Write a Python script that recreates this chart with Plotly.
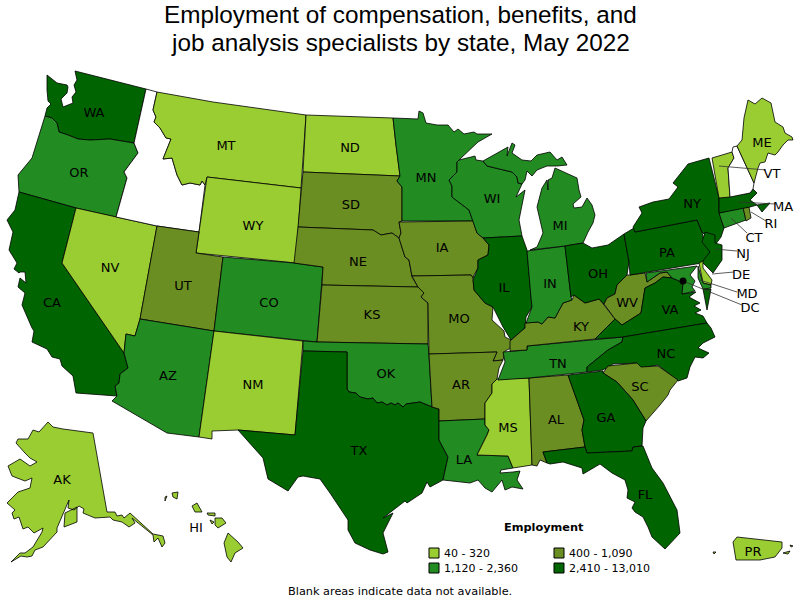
import plotly.graph_objects as go

# legend classes (employment ranges) and colours
bin_labels = ['40 - 320', '400 - 1,090', '1,120 - 2,360', '2,410 - 13,010']
bin_colors = ['#9ACD32', '#6B8E23', '#228B22', '#006400']

# class of each state, -1 = data not available
state_bins = {
    'WA': 3, 'OR': 2, 'CA': 3, 'NV': 0, 'ID': -1, 'MT': 0, 'WY': 0, 'UT': 1, 'CO': 2, 'AZ': 2, 'NM': 0,
    'ND': 0, 'SD': 1, 'NE': 1, 'KS': 1, 'OK': 2, 'TX': 3, 'MN': 2, 'IA': 1, 'MO': 1, 'AR': 1, 'LA': 2,
    'WI': 2, 'IL': 3, 'MS': 0, 'AL': 1, 'TN': 2, 'KY': 1, 'IN': 2, 'MI': 2, 'OH': 3, 'WV': 1, 'VA': 3,
    'NC': 3, 'SC': 1, 'GA': 3, 'FL': 3, 'PA': 3, 'NY': 3, 'NJ': 3, 'MD': 2, 'DE': 0, 'CT': 2, 'RI': 1,
    'MA': 3, 'VT': 0, 'NH': -1, 'ME': 0, 'AK': 0, 'HI': 0, 'PR': 0,
}

outlines = {
    'WA': [[(47, 75), (57, 83), (67, 85), (68, 87), (67, 93), (61, 99), (63, 107), (73, 103), (72, 97), (76, 92), (74, 85), (77, 80), (75, 71), (146, 89), (134, 143), (110, 139), (90, 140), (78, 139), (68, 135), (59, 132), (57, 123), (52, 118), (45, 116), (47, 108), (51, 104), (48, 101), (47, 90)]],
    'OR': [[(45, 116), (52, 118), (57, 123), (59, 132), (68, 135), (78, 139), (90, 140), (110, 139), (134, 143), (138, 153), (124, 172), (127, 178), (116, 217), (76, 208), (19, 192), (18, 175), (32, 158)]],
    'CA': [[(19, 192), (76, 208), (62, 263), (124, 353), (128, 368), (120, 374), (119, 383), (115, 386), (117, 396), (76, 393), (73, 376), (62, 366), (60, 359), (52, 357), (47, 349), (32, 342), (34, 331), (32, 328), (22, 305), (25, 293), (18, 287), (20, 278), (26, 283), (25, 272), (20, 272), (19, 273), (14, 269), (17, 263), (9, 250), (13, 232), (7, 220), (15, 210)]],
    'NV': [[(76, 208), (157, 226), (140, 319), (135, 336), (126, 334), (124, 353), (62, 263)]],
    'ID': [[(146, 89), (157, 92), (153, 110), (156, 117), (154, 122), (160, 128), (166, 138), (171, 139), (163, 159), (172, 158), (177, 175), (182, 185), (190, 183), (200, 185), (202, 181), (205, 185), (199, 232), (157, 226), (116, 217), (127, 178), (124, 172), (138, 153), (134, 143)]],
    'MT': [[(157, 92), (213, 102), (306, 115), (301, 188), (207, 177), (205, 185), (202, 181), (200, 185), (190, 183), (182, 185), (177, 175), (172, 158), (163, 159), (171, 139), (166, 138), (160, 128), (154, 122), (156, 117), (153, 110)]],
    'WY': [[(207, 177), (301, 188), (296, 263), (196, 253)]],
    'UT': [[(157, 226), (199, 232), (196, 253), (223, 257), (214, 331), (140, 319)]],
    'CO': [[(223, 257), (294, 263), (323, 267), (317, 342), (214, 331)]],
    'AZ': [[(140, 319), (214, 331), (199, 437), (167, 433), (112, 401), (117, 396), (115, 386), (119, 383), (120, 374), (128, 368), (124, 353), (126, 334), (135, 336)]],
    'NM': [[(214, 331), (303, 341), (295, 435), (238, 430), (212, 431), (212, 439), (199, 437)]],
    'ND': [[(306, 115), (393, 118), (396, 145), (400, 176), (303, 172)]],
    'SD': [[(303, 172), (400, 176), (397, 181), (402, 187), (402, 221), (399, 222), (401, 233), (399, 238), (392, 233), (381, 235), (373, 230), (298, 227)]],
    'NE': [[(298, 227), (373, 230), (381, 235), (392, 233), (399, 238), (405, 257), (409, 260), (412, 277), (418, 287), (322, 285), (323, 267), (294, 263)]],
    'KS': [[(322, 285), (418, 287), (424, 293), (421, 297), (428, 303), (428, 344), (317, 342)]],
    'OK': [[(303, 341), (317, 342), (428, 344), (429, 355), (432, 407), (420, 402), (406, 404), (403, 407), (398, 403), (395, 405), (391, 403), (387, 405), (382, 402), (377, 403), (373, 398), (368, 399), (360, 397), (356, 393), (349, 392), (347, 389), (347, 352), (303, 351)]],
    'TX': [[(303, 351), (347, 352), (347, 389), (349, 392), (356, 393), (360, 397), (368, 399), (373, 398), (377, 403), (382, 402), (387, 405), (391, 403), (395, 405), (398, 403), (403, 407), (406, 404), (420, 402), (432, 407), (439, 409), (439, 440), (448, 457), (443, 480), (430, 487), (427, 482), (422, 493), (407, 503), (405, 501), (397, 507), (383, 518), (393, 513), (383, 533), (388, 552), (383, 554), (370, 550), (355, 543), (348, 530), (348, 520), (330, 493), (320, 479), (303, 476), (298, 477), (288, 491), (268, 479), (263, 458), (238, 430), (295, 435)]],
    'MN': [[(393, 118), (418, 119), (419, 111), (423, 113), (426, 123), (437, 125), (448, 125), (454, 132), (458, 129), (464, 134), (474, 132), (477, 134), (492, 134), (478, 142), (459, 160), (457, 162), (457, 172), (449, 180), (452, 186), (452, 197), (469, 210), (473, 221), (402, 221), (402, 187), (397, 181), (400, 176), (396, 145)]],
    'IA': [[(399, 222), (473, 221), (477, 233), (483, 238), (489, 245), (488, 255), (478, 260), (478, 268), (474, 275), (473, 278), (471, 275), (412, 276), (409, 260), (405, 257), (399, 238), (401, 233)]],
    'MO': [[(412, 276), (471, 275), (473, 278), (474, 290), (485, 303), (493, 307), (492, 320), (504, 331), (505, 337), (511, 340), (511, 348), (505, 351), (503, 360), (493, 361), (497, 352), (429, 354), (428, 303), (421, 297), (424, 293), (418, 287)]],
    'AR': [[(429, 354), (497, 352), (493, 361), (503, 360), (499, 368), (497, 379), (492, 384), (492, 393), (485, 403), (485, 419), (439, 421), (439, 409), (432, 407)]],
    'LA': [[(439, 421), (485, 419), (485, 425), (489, 430), (487, 435), (477, 455), (508, 456), (513, 468), (501, 470), (500, 473), (513, 472), (520, 471), (517, 480), (523, 489), (512, 487), (505, 490), (502, 480), (492, 492), (485, 488), (478, 480), (470, 483), (443, 480), (448, 457), (439, 440)]],
    'WI': [[(459, 160), (475, 156), (476, 160), (483, 161), (487, 166), (512, 172), (517, 177), (518, 183), (522, 184), (516, 197), (525, 190), (522, 207), (519, 220), (522, 236), (483, 238), (477, 233), (473, 221), (469, 210), (452, 197), (452, 186), (449, 180), (457, 172), (457, 162)]],
    'IL': [[(483, 238), (522, 236), (527, 250), (531, 298), (532, 307), (526, 317), (525, 328), (511, 340), (505, 331), (503, 327), (493, 307), (485, 303), (474, 290), (473, 280), (478, 268), (478, 260), (488, 255), (489, 245)]],
    'MS': [[(497, 379), (529, 378), (532, 465), (513, 468), (508, 456), (477, 455), (487, 435), (489, 430), (485, 425), (485, 403), (492, 393), (492, 384)]],
    'AL': [[(529, 378), (568, 375), (584, 420), (582, 430), (585, 447), (543, 452), (547, 463), (540, 460), (537, 466), (532, 465)]],
    'TN': [[(503, 352), (527, 350), (527, 346), (623, 337), (622, 342), (608, 350), (587, 367), (587, 372), (529, 378), (498, 380), (505, 362)]],
    'KY': [[(510, 341), (525, 328), (525, 323), (538, 322), (542, 324), (548, 317), (555, 318), (563, 303), (572, 300), (574, 295), (585, 303), (599, 299), (604, 305), (615, 319), (595, 339), (527, 346), (527, 350), (510, 351)]],
    'IN': [[(527, 251), (565, 246), (571, 297), (572, 300), (563, 303), (555, 318), (548, 317), (542, 324), (538, 322), (526, 323), (532, 307), (531, 298)]],
    'MI': [[(483, 161), (508, 147), (507, 156), (512, 143), (515, 145), (512, 153), (522, 160), (531, 161), (537, 155), (550, 152), (557, 160), (562, 157), (567, 165), (557, 166), (547, 166), (537, 170), (532, 176), (527, 171), (525, 180), (522, 184), (518, 183), (517, 177), (512, 172), (487, 166)],
           [(555, 168), (577, 178), (579, 190), (581, 197), (573, 204), (574, 208), (582, 207), (587, 198), (592, 205), (595, 215), (593, 223), (588, 232), (583, 243), (565, 246), (530, 250), (537, 247), (543, 233), (537, 207), (542, 188), (547, 180), (548, 190), (548, 180), (552, 178)]],
    'OH': [[(565, 246), (583, 243), (592, 248), (608, 245), (624, 234), (629, 262), (627, 275), (617, 285), (615, 294), (607, 298), (604, 304), (599, 299), (585, 303), (574, 295), (571, 297)]],
    'WV': [[(604, 304), (607, 298), (615, 294), (617, 285), (627, 275), (630, 275), (645, 273), (647, 282), (660, 273), (667, 272), (672, 278), (663, 277), (655, 283), (645, 288), (641, 313), (622, 325), (615, 319)]],
    'VA': [[(595, 339), (615, 319), (622, 325), (641, 313), (645, 288), (655, 283), (663, 277), (672, 278), (677, 280), (683, 283), (682, 294), (696, 292), (689, 297), (700, 303), (694, 306), (701, 310), (695, 313), (703, 316), (707, 323), (623, 337)],
           [(711, 289), (707, 310), (703, 289)]],
    'NC': [[(623, 337), (707, 323), (711, 328), (715, 337), (703, 343), (698, 348), (709, 353), (703, 358), (695, 357), (690, 367), (687, 378), (678, 381), (658, 365), (640, 368), (637, 363), (613, 364), (603, 370), (587, 372), (587, 367), (608, 350), (622, 342)]],
    'SC': [[(603, 373), (608, 366), (637, 363), (641, 367), (658, 366), (678, 380), (670, 390), (668, 395), (660, 405), (646, 421), (633, 400), (617, 382)]],
    'GA': [[(568, 375), (603, 371), (603, 373), (617, 382), (633, 400), (646, 421), (643, 428), (642, 446), (633, 447), (632, 451), (587, 453), (585, 447), (582, 430), (584, 420)]],
    'FL': [[(543, 452), (585, 447), (587, 453), (632, 451), (633, 447), (643, 446), (652, 468), (663, 483), (677, 510), (680, 533), (665, 549), (652, 537), (648, 527), (643, 517), (635, 512), (632, 508), (635, 502), (627, 498), (628, 490), (625, 480), (612, 473), (600, 464), (583, 474), (582, 468), (563, 462), (550, 464), (547, 463)]],
    'PA': [[(624, 234), (634, 228), (635, 232), (697, 220), (702, 232), (703, 237), (711, 252), (702, 263), (630, 275), (629, 262)]],
    'NY': [[(709, 158), (719, 198), (719, 212), (724, 228), (721, 237), (715, 245), (702, 232), (697, 220), (635, 232), (634, 228), (633, 227), (642, 213), (639, 207), (653, 202), (669, 199), (678, 187), (673, 183), (688, 164)]],
    'NJ': [[(705, 232), (715, 235), (715, 243), (722, 245), (722, 260), (713, 273), (705, 265), (702, 262), (710, 252), (702, 242)]],
    'DE': [[(699, 263), (703, 261), (703, 268), (712, 280), (711, 285), (703, 283)]],
    'MD': [[(646, 273), (697, 266), (690, 275), (695, 281), (692, 287), (695, 291), (682, 294), (683, 283), (677, 280), (672, 278), (667, 272), (660, 273), (647, 282)],
           [(698, 266), (703, 283), (711, 285), (711, 288), (703, 289), (698, 278)]],
    'CT': [[(719, 213), (743, 207), (746, 220), (724, 228)]],
    'RI': [[(743, 207), (749, 207), (751, 218), (746, 221)]],
    'MA': [[(719, 198), (750, 193), (753, 189), (757, 193), (750, 200), (757, 205), (770, 203), (762, 212), (757, 205), (750, 207), (719, 213)]],
    'VT': [[(712, 158), (732, 152), (734, 158), (728, 168), (730, 197), (719, 198)]],
    'NH': [[(732, 152), (733, 147), (737, 146), (754, 183), (753, 189), (750, 193), (730, 197), (728, 168), (734, 158)]],
    'ME': [[(737, 146), (742, 140), (744, 118), (748, 100), (755, 104), (762, 98), (771, 103), (775, 122), (783, 127), (785, 133), (792, 137), (793, 140), (788, 140), (783, 145), (778, 152), (775, 155), (768, 153), (765, 162), (760, 163), (758, 168), (754, 183)]],
    'AK': [[(93, 433), (107, 512), (115, 512), (117, 516), (122, 515), (124, 518), (130, 513), (153, 534), (163, 536), (165, 543), (162, 547), (158, 538), (154, 542), (153, 535), (132, 518), (135, 523), (129, 527), (122, 522), (113, 520), (110, 517), (95, 518), (83, 513), (84, 509), (79, 506), (74, 510), (68, 508), (69, 500), (57, 528), (57, 532), (43, 547), (35, 550), (32, 556), (27, 557), (21, 556), (11, 562), (20, 553), (25, 553), (33, 547), (42, 532), (43, 528), (34, 533), (28, 527), (23, 529), (19, 517), (14, 519), (12, 513), (15, 510), (7, 503), (18, 492), (30, 488), (32, 478), (25, 481), (12, 476), (8, 466), (20, 459), (30, 466), (37, 462), (30, 458), (25, 453), (16, 443), (18, 439), (28, 439), (33, 430), (39, 432), (48, 422), (53, 427), (63, 429)],
           [(65, 513), (77, 507), (77, 522), (64, 527)]],
    'HI': [[(228, 533), (238, 542), (243, 548), (235, 553), (231, 562), (227, 557), (224, 543)],
           [(215, 518), (222, 518), (226, 523), (218, 528), (215, 525)],
           [(210, 520), (214, 522), (212, 524)],
           [(207, 513), (215, 513), (215, 516), (208, 515)],
           [(192, 506), (197, 503), (202, 512), (195, 512)],
           [(172, 493), (178, 492), (177, 499), (173, 497)],
           [(165, 497), (167, 496), (165, 501)]],
    'PR': [[(737, 537), (753, 539), (782, 542), (782, 548), (775, 557), (760, 560), (736, 560), (733, 542)],
           [(783, 553), (790, 551), (788, 554)],
           [(790, 545), (793, 546), (791, 547)],
           [(713, 552), (716, 552), (714, 554)]],
}

# label positions, (state, x, y)
labels = [
    ('WA', 94, 114), ('OR', 79, 174), ('MT', 226, 147), ('WY', 253, 227), ('CA', 52, 304), ('NV', 110, 269),
    ('UT', 183, 287), ('CO', 269, 304), ('AZ', 168, 377), ('NM', 253, 386), ('ND', 350, 149), ('SD', 351, 206),
    ('NE', 358, 263), ('KS', 372, 316), ('OK', 386, 375), ('TX', 359, 452), ('MN', 426, 179), ('IA', 442, 249),
    ('MO', 459, 320), ('AR', 461, 386), ('LA', 464, 461), ('WI', 492, 200), ('IL', 504, 289), ('IN', 550, 285),
    ('MI', 560, 227), ('OH', 598, 275), ('KY', 581, 328), ('TN', 558, 365), ('WV', 627, 304), ('VA', 670, 311),
    ('NC', 666, 355), ('SC', 640, 388), ('PA', 667, 254), ('GA', 606, 419), ('AL', 556, 421), ('MS', 508, 429),
    ('FL', 645, 496), ('NY', 692, 205), ('ME', 762, 144), ('AK', 62, 481), ('HI', 196, 529), ('PR', 753, 553),
    ('VT', 772, 175), ('MA', 783, 208), ('RI', 771, 225), ('CT', 754, 239), ('NJ', 743, 255), ('DE', 741, 276),
    ('MD', 747, 295), ('DC', 750, 309),
]

# leader lines from small states to their labels
leaders = [
    ((719, 166), (766, 170)), ((739, 202), (775, 204)), ((751, 212), (766, 221)), ((731, 218), (747, 233)),
    ((715, 249), (737, 251)), ((712, 274), (734, 272)), ((700, 280), (737, 292)), ((683, 281), (742, 305)),
]

title_lines = ['Employment of compensation, benefits, and', 'job analysis specialists by state, May 2022']
footnote = 'Blank areas indicate data not available.'

fig = go.Figure()

for st, rings in outlines.items():
    xs, ys = [], []
    for ring in rings:
        ring = ring + [ring[0]]
        xs += [p[0] for p in ring] + [None]
        ys += [p[1] for p in ring] + [None]
    k = state_bins[st]
    fig.add_scatter(x=xs, y=ys, mode='lines', fill='toself', name=st,
                    fillcolor=bin_colors[k] if k >= 0 else 'white',
                    line=dict(color='black', width=0.8), hoverinfo='name')

# leaders
lx, ly = [], []
for a, b in leaders:
    lx += [a[0], b[0], None]
    ly += [a[1], b[1], None]
fig.add_scatter(x=lx, y=ly, mode='lines', line=dict(color='#333333', width=0.8), hoverinfo='skip')

# DC dot
fig.add_scatter(x=[683], y=[281], mode='markers', marker=dict(color='black', size=7), hoverinfo='skip')

fig.add_scatter(x=[l[1] for l in labels], y=[l[2] for l in labels], text=[l[0] for l in labels],
                mode='text', textposition='middle center',
                textfont=dict(family='DejaVu Sans', size=13, color='black'), hoverinfo='skip')

# legend
leg_x = [434, 559, 434, 559]
leg_y = [553, 553, 568, 568]
fig.add_scatter(x=leg_x, y=leg_y, mode='markers', hoverinfo='skip',
                marker=dict(symbol='square', size=10, color=bin_colors, line=dict(color='black', width=1)))
fig.add_scatter(x=[x + 10 for x in leg_x], y=[y + 1 for y in leg_y], mode='text', text=bin_labels,
                textposition='middle right',
                textfont=dict(family='DejaVu Sans', size=11, color='black'), hoverinfo='skip')

fig.add_annotation(x=544, y=527, text='<b>Employment</b>', showarrow=False,
                   font=dict(family='DejaVu Sans', size=11.3, color='black'))
fig.add_annotation(x=400, y=591, text=footnote, showarrow=False,
                   font=dict(family='DejaVu Sans', size=11.3, color='black'))
fig.add_annotation(x=400, y=14, text=title_lines[0], showarrow=False,
                   font=dict(family='Liberation Sans', size=24.3, color='black'))
fig.add_annotation(x=400, y=42, text=title_lines[1], showarrow=False,
                   font=dict(family='Liberation Sans', size=24.3, color='black'))

fig.update_layout(width=800, height=600, margin=dict(l=0, r=0, t=0, b=0), showlegend=False,
                  plot_bgcolor='white', paper_bgcolor='white',
                  xaxis=dict(range=[0, 800], visible=False, fixedrange=True),
                  yaxis=dict(range=[600, 0], visible=False, fixedrange=True))

fig.write_html("out.html", config=dict(displayModeBar=False),
               post_script="document.body.style.margin='0';")
